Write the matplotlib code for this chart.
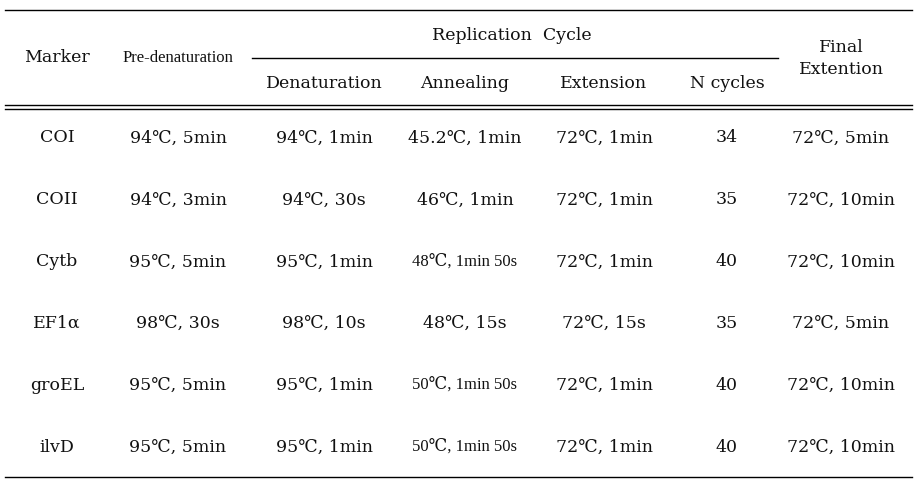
import matplotlib.pyplot as plt

# table content
markers = ['COI', 'COII', 'Cytb', 'EF1α', 'groEL', 'ilvD']
pre_denaturation = ['94℃, 5min', '94℃, 3min', '95℃, 5min', '98℃, 30s', '95℃, 5min', '95℃, 5min']
denaturation = ['94℃, 1min', '94℃, 30s', '95℃, 1min', '98℃, 10s', '95℃, 1min', '95℃, 1min']
annealing = ['45.2℃, 1min', '46℃, 1min', '48℃, 1min 50s', '48℃, 15s', '50℃, 1min 50s', '50℃, 1min 50s']
extension = ['72℃, 1min', '72℃, 1min', '72℃, 1min', '72℃, 15s', '72℃, 1min', '72℃, 1min']
n_cycles = ['34', '35', '40', '35', '40', '40']
final_extension = ['72℃, 5min', '72℃, 10min', '72℃, 10min', '72℃, 5min', '72℃, 10min', '72℃, 10min']

sub_headers = ['Denaturation', 'Annealing', 'Extension', 'N cycles']

# layout (pixel coordinates)
W, H = 917, 484
col_x = [57, 178, 324, 465, 604, 727, 841]
row_y = [138, 200, 262, 323, 385, 447]
wide = ['DejaVu Serif']
narrow = ['Liberation Serif', 'DejaVu Serif']
fs = 12.5

fig = plt.figure(figsize=(W / 100, H / 100), dpi=100)
ax = fig.add_axes([0, 0, 1, 1])
ax.set_xlim(0, W)
ax.set_ylim(H, 0)
ax.axis('off')

def txt(x, y, s, size=fs, fam=wide):
    ax.text(x, y, s, ha='center', va='center', fontsize=size, family=fam, color='#111111')

# rules
ax.plot([5, 912], [10, 10], color='black', lw=1.0)
ax.plot([252, 778], [58, 58], color='black', lw=1.0)
ax.plot([5, 912], [105, 105], color='black', lw=1.0)
ax.plot([5, 912], [109, 109], color='black', lw=1.0)
ax.plot([5, 912], [477, 477], color='black', lw=1.0)

# header
txt(col_x[0], 58, 'Marker')
txt(col_x[1], 58, 'Pre-denaturation', size=12, fam=narrow)
txt(512, 35, 'Replication  Cycle')
for x, s in zip(col_x[2:6], sub_headers):
    txt(x, 83, s)
txt(col_x[6], 48, 'Final')
txt(col_x[6], 70, 'Extention')

# body
columns = [markers, pre_denaturation, denaturation, annealing, extension, n_cycles, final_extension]
for x, col in zip(col_x, columns):
    for y, s in zip(row_y, col):
        if len(s) > 11:
            txt(x, y, s, size=12, fam=narrow)
        else:
            txt(x, y, s)

fig.savefig('out.png', dpi=100, facecolor='white')
